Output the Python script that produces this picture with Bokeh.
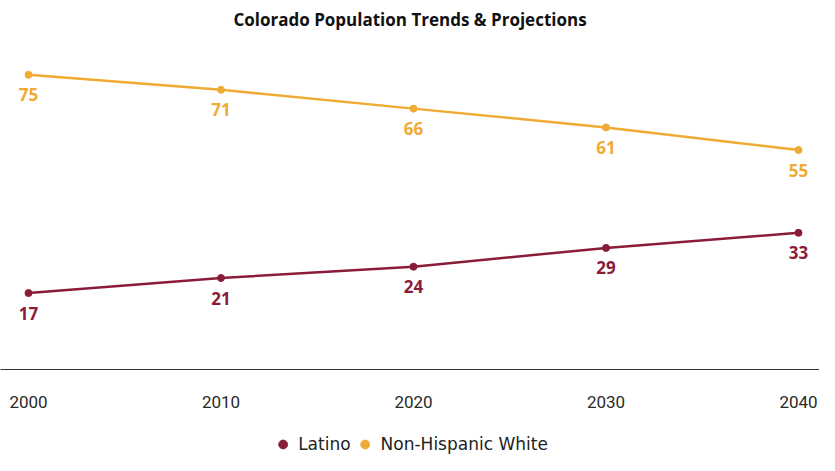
from bokeh.plotting import figure
from bokeh.layouts import column
from bokeh.core.properties import value
from bokeh.models import ColumnDataSource, LabelSet, Legend, LegendItem, FixedTicker, Range1d
from bokeh.embed import file_html
from bokeh.resources import INLINE

# ---- data ----
years = [2000, 2010, 2020, 2030, 2040]
latino = [17, 21, 24, 29, 33]
non_hispanic_white = [75, 71, 66, 61, 55]
series_names = ["Latino", "Non-Hispanic White"]
series_colors = ["#8A1C3A", "#F0AB34"]
title_text = "Colorado Population Trends & Projections"
series_values = [latino, non_hispanic_white]

p = figure(width=819, height=420, output_backend="svg", toolbar_location=None,
           title=title_text, y_axis_location=None,
           x_range=Range1d(1998.545, 2041.091), y_range=Range1d(-3.31, 85.43),
           min_border_top=30, min_border_bottom=51, min_border_left=0, min_border_right=0)

p.title.align = "center"
p.title.text_font = "Open Sans"
p.title.text_font_size = "17px"
p.title.text_font_style = "bold"
p.title.text_color = "#111111"
p.title.standoff = 10

p.outline_line_color = None
p.xgrid.visible = False
p.ygrid.visible = False

ax = p.xaxis[0]
ax.ticker = FixedTicker(ticks=years)
ax.axis_line_color = "#333333"
ax.axis_line_width = 1.2
ax.major_tick_line_color = None
ax.minor_tick_line_color = None
ax.major_tick_out = 0
ax.major_tick_in = 0
ax.major_label_standoff = 26
ax.major_label_text_font = "Roboto"
ax.major_label_text_font_size = "17px"
ax.major_label_text_color = "#2a2a2a"

for vals, name, color in zip(series_values, series_names, series_colors):
    src = ColumnDataSource(dict(x=years, y=vals, label=[str(v) for v in vals]))
    p.line("x", "y", source=src, line_color=color, line_width=2.5)
    p.scatter("x", "y", source=src, size=7, fill_color=color, line_color=color)
    labels = LabelSet(x="x", y="y", text="label", source=src, y_offset=-20,
                      text_align="center", text_baseline="middle",
                      text_font=value("Open Sans"), text_font_size=value("17px"),
                      text_font_style="bold", text_color=color)
    p.add_layout(labels)

# ---- legend strip below the chart ----
leg = figure(width=819, height=35, output_backend="svg", toolbar_location=None,
             x_axis_location=None, y_axis_location=None,
             x_range=Range1d(0, 1), y_range=Range1d(0, 1),
             min_border_top=0, min_border_bottom=0, min_border_left=0, min_border_right=0)
leg.outline_line_color = None
leg.xgrid.visible = False
leg.ygrid.visible = False

items = []
for vals, name, color in zip(series_values, series_names, series_colors):
    # legend-only renderer: its point lies outside this strip's range, so only the legend glyph shows
    r = leg.scatter(x=[years[0]], y=[vals[0]], size=9, fill_color=color, line_color=color)
    items.append(LegendItem(label=name, renderers=[r]))

legend = Legend(items=items, location="bottom_center", orientation="horizontal",
                glyph_width=22, glyph_height=22, label_standoff=5, spacing=3,
                padding=0, margin=0, border_line_color=None, background_fill_alpha=0,
                label_text_font="DejaVu Sans", label_text_font_size="17px",
                label_text_color="#222222")
leg.add_layout(legend)

open("out.html", "w").write(file_html(column(p, leg), INLINE))
